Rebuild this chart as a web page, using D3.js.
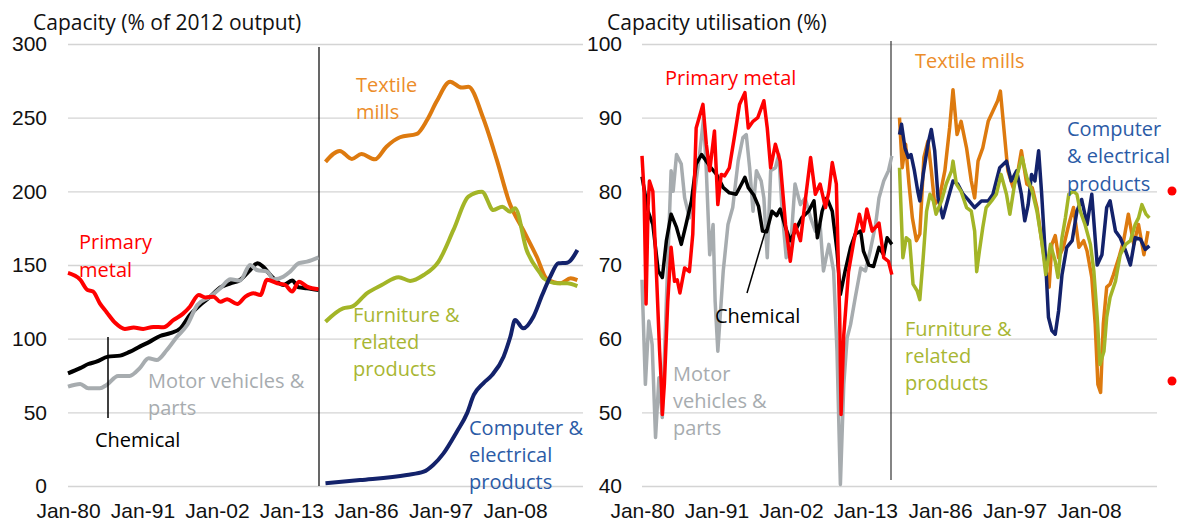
<!DOCTYPE html>
<html>
<head>
<meta charset="utf-8">
<script src="https://cdn.jsdelivr.net/npm/d3@7"></script>
<style>
  body { margin: 0; background: #fff; }
  svg { font-family: "Open Sans", sans-serif; }
  .axis text { font-size: 21px; fill: #111; }
  .axis path { display: none; }
  .grid line { stroke: #d4d4d4; stroke-width: 1.3; }
  .lbl { font-size: 20px; }
</style>
</head>
<body>
<svg id="chart" width="1180" height="523"></svg>
<script>
// --- data: [decimal year, value] ---
// capacity (% of 2012 output), first block
const primaryMetalCap = [[1980,144.6],[1981.8,140],[1982.9,133],[1983.7,132],[1984.7,124],[1985.7,118],[1987,110.6],[1988.4,106.6],[1989.7,107.5],[1991.1,106.6],[1992.6,108],[1994.1,107.7],[1995.6,112.7],[1997,117],[1998,121.7],[1999.3,129.6],[2000.3,128],[2001.5,128.5],[2002.5,125],[2003.5,126.7],[2005,123.5],[2006.2,128.5],[2007.4,130.8],[2008.4,129.6],[2009.4,140],[2010.9,137.6],[2012.1,136.4],[2013.1,132],[2014.1,138.7],[2015.3,135.3],[2017,133.5]];
const chemicalCap = [[1980,76.5],[1981.8,80],[1983,82.8],[1984.2,84.4],[1985.9,87.8],[1987.7,88.5],[1989.1,91],[1990.6,94.6],[1992.1,98],[1993.6,101.8],[1995.1,103.7],[1996.6,107],[1998,116],[1999.5,122.9],[2001,128.5],[2002.5,134.8],[2004,137.6],[2005.4,139.8],[2006.9,146.6],[2008,151.2],[2008.8,148.9],[2010.1,142.1],[2011.8,136.4],[2013.1,139.4],[2014.1,134.8],[2015.3,134.2],[2017,133]];
const motorCap = [[1980,67.4],[1981.8,69.2],[1983,66.3],[1984.7,66.3],[1985.7,68.6],[1987.4,74.7],[1989.1,74.7],[1990.6,80],[1991.9,86.7],[1993.1,85.5],[1994.6,92.3],[1996.1,101.3],[1997.6,109.3],[1999.1,122.9],[2001,128.5],[2002.5,134.2],[2004,140.3],[2005.4,139.4],[2006.9,150],[2007.9,146.6],[2009.4,145.5],[2010.4,140.3],[2011.8,142.1],[2012.8,145.5],[2014.1,151.2],[2015.3,152.3],[2017,155.2]];
// capacity, second block
const textileCap = [[1980,220],[1982.1,227.4],[1983.9,222],[1985.3,225.3],[1987.3,221.7],[1989,230.3],[1991,236.7],[1993.5,239],[1995,248.4],[1996.4,260.9],[1998.4,274.4],[2000.1,270.4],[2001.1,271],[2003.3,249.6],[2005.3,221.3],[2007.2,191.9],[2009.2,173.8],[2011.2,155.6],[2012.7,140.5],[2014.7,137.6],[2016.2,141],[2017.2,139.8]];
const furnitureCap = [[1980,111.5],[1982.6,120.6],[1983.9,121.7],[1986.1,130.8],[1988.3,136.4],[1990.8,141.7],[1992.5,139.2],[1994.5,143.2],[1996.7,152.3],[1998.9,173.8],[2001.1,196.4],[2003.1,199.8],[2004.8,187.3],[2006.1,189.6],[2007.3,186.2],[2008,188.5],[2009.7,160.2],[2011.7,144.4],[2012.2,141],[2014.2,137.6],[2015.7,137.6],[2017.2,135.7]];
const computerCap = [[1980,1.8],[1985.1,4],[1992,7.5],[1994.5,9.7],[1995.9,14.3],[1997.4,22],[1999.4,36.9],[2000.9,49.3],[2001.9,61.8],[2003.3,69.7],[2004.6,75.3],[2006.3,87.8],[2007.3,101.3],[2008,112.7],[2009.2,107],[2010.7,114.9],[2012,129.6],[2013.2,142.1],[2014.4,151.2],[2015.7,151.6],[2017.2,160.2]];

// capacity utilisation (%), first block
const primaryMetalUtil = [[1980,84.8],[1980.3,80],[1980.6,64.7],[1980.9,78],[1981.1,81.4],[1981.6,80],[1982.1,69.6],[1982.6,58.3],[1982.9,53],[1983,49.7],[1983.3,53.8],[1983.8,65],[1984.3,72.4],[1984.8,67.8],[1985.2,68],[1985.6,66.2],[1986.3,69.6],[1987,69.1],[1987.5,74.2],[1988,88.6],[1988.5,90.2],[1989,91.8],[1989.5,86.4],[1990,82.8],[1990.7,88.2],[1991.2,78.2],[1991.7,82.3],[1992.2,82.1],[1992.9,83.2],[1993.7,87.7],[1994.4,91.8],[1995.2,93.4],[1995.7,88.6],[1996.4,89.5],[1997.1,90],[1998,92.3],[1998.5,88.6],[1999,83.2],[1999.7,86.4],[2000.4,84.1],[2001.2,75.5],[2001.9,70.5],[2002.6,75.5],[2003.4,73.3],[2004.1,78.7],[2004.9,84.6],[2005.6,79.6],[2006.3,81],[2007.1,77.8],[2007.6,80],[2008.1,83.9],[2008.7,81],[2009.2,62.9],[2009.4,49.7],[2009.8,60.5],[2010.5,69.1],[2011.3,73.3],[2012.1,76.9],[2012.7,74.6],[2013.2,77.6],[2014,74.6],[2015,75.7],[2015.7,71],[2016.4,70.5],[2016.9,68.7]];
const chemicalUtil = [[1980,82],[1980.9,77.3],[1981.6,75.5],[1982.4,69.2],[1983,68.3],[1983.6,73.3],[1984.3,76.9],[1985.1,75.1],[1985.8,72.8],[1986.5,75.5],[1987.3,78.7],[1988,83.7],[1988.8,85],[1989.5,84.1],[1990.2,83.2],[1991,82.3],[1992,80.5],[1992.9,79.8],[1993.9,79.6],[1994.7,81],[1995.2,81.9],[1995.7,80.5],[1996.5,79.5],[1997.2,78],[1997.8,74.6],[1998.4,74.5],[1999.2,77.3],[1999.9,76.7],[2000.4,77.6],[2001.2,75.1],[2001.9,73.3],[2002.6,74.6],[2003.6,76.4],[2004.6,77.3],[2005.4,78.7],[2005.9,73.7],[2006.6,77.3],[2007.3,79.1],[2008.1,77.3],[2008.8,71.9],[2009.3,66],[2010,69.2],[2010.8,72.4],[2011.5,74.2],[2012.3,74.6],[2012.7,71.9],[2013.5,70],[2014.2,69.8],[2015,72.4],[2015.7,71.4],[2016.2,73.7],[2016.9,72.8]];
const motorUtil = [[1980,68],[1980.5,53.8],[1981,62.4],[1981.5,59.2],[1982,46.6],[1982.5,54.7],[1983,49.3],[1983.6,65.1],[1984.3,82.8],[1984.6,80],[1985.1,85],[1985.8,83.7],[1986.3,79.1],[1987,76.4],[1987.8,80],[1988.5,85],[1989.1,90],[1989.5,82.8],[1990,71.4],[1990.5,75.5],[1990.8,65.1],[1991.2,58.3],[1992,69.2],[1992.7,75.5],[1993.4,77.8],[1994.2,84.1],[1994.9,87.3],[1995.4,87.7],[1995.9,83.2],[1996.4,77.3],[1996.9,82.8],[1997.6,81.4],[1998,79.1],[1998.5,71],[1999,82.8],[1999.7,83.2],[2000.2,85],[2000.7,77.3],[2001.3,71],[2001.9,71.9],[2002.6,81],[2003.4,78.2],[2004.1,79.1],[2004.9,76.4],[2005.6,74.6],[2006.3,75.5],[2006.8,69.2],[2007.6,72.8],[2008.3,69.2],[2008.8,58.3],[2009.3,40.2],[2009.8,53.8],[2010.3,60.1],[2010.8,61.9],[2011.5,65.6],[2012.3,69.6],[2013,69.2],[2013.7,71.9],[2014.5,75.5],[2015,79.1],[2015.7,81.4],[2016.4,82.8],[2016.9,84.8]];
// capacity utilisation, second block
const textileUtil = [[1980,90],[1980.4,83.2],[1980.9,86.4],[1981.4,81],[1981.9,76.4],[1982.5,73.3],[1983,74.2],[1983.6,84.6],[1984.2,86.8],[1984.7,82.8],[1985.2,78.2],[1985.9,79.1],[1986.7,82.8],[1987.4,88.6],[1987.9,93.8],[1988.5,87.7],[1989.1,89.5],[1989.9,85.9],[1990.6,81.4],[1991.1,79.1],[1991.6,84.1],[1992.3,85.9],[1993.1,89.5],[1993.8,90.9],[1994.5,92.3],[1994.9,93.6],[1995.5,87.7],[1996,82.8],[1996.8,80.5],[1997.5,82.8],[1998,85.5],[1998.8,81],[1999.6,80.5],[2000.3,77.8],[2001,73.3],[2001.8,68.3],[2002.1,67],[2002.5,72.8],[2003,74],[2003.5,71],[2004.2,72.4],[2005,75.5],[2005.7,77.8],[2006.5,72.4],[2007.2,73.3],[2007.7,71.9],[2008.4,68.3],[2008.9,62],[2009.3,53.8],[2009.7,52.7],[2010.1,62],[2010.6,67],[2011.1,67.4],[2011.6,68.7],[2012.4,71],[2013.1,73.3],[2013.8,76.9],[2014.6,72.8],[2015.3,75.5],[2016.1,71.4],[2016.7,74.6]];
const computerUtil = [[1980,87.7],[1980.3,89.1],[1980.8,85.9],[1981.3,84.6],[1981.7,85],[1982.2,82.8],[1982.7,80],[1983,78.7],[1983.5,82.3],[1984.2,86.4],[1984.7,88.4],[1985.2,85.5],[1985.7,79.1],[1986.4,76.4],[1987.2,79.1],[1987.9,81.4],[1988.6,81],[1989.4,79.6],[1990.1,78.9],[1991.1,77.8],[1992.1,78.7],[1993.1,78.7],[1993.8,79.6],[1994.8,83.2],[1995.8,84.1],[1996.5,81.4],[1997.3,82.8],[1998,79.6],[1998.5,76],[1999,78.2],[1999.5,82.3],[2000,81.4],[2000.55,85.5],[2001,79.6],[2001.5,71.9],[2002,62.9],[2002.5,61.1],[2003,60.6],[2003.5,63.8],[2004,68.7],[2004.7,72.4],[2005.5,73.3],[2006.2,77.3],[2006.9,78.9],[2007.7,75.5],[2008.4,79.6],[2009.2,70],[2009.9,71.4],[2010.6,77.8],[2011.1,78.7],[2011.9,74.6],[2012.6,73.7],[2013.4,71.9],[2014.1,70],[2014.8,73.7],[2015.6,73.5],[2016.3,72.1],[2016.9,72.6]];
const furnitureUtil = [[1980,83.2],[1980.5,71],[1981,73.7],[1981.5,73.3],[1982,67.4],[1982.6,66.5],[1983,65.3],[1983.5,71],[1984,77.3],[1984.5,79.6],[1985,78.7],[1985.4,76.9],[1986.2,78.7],[1986.9,81],[1987.7,82.8],[1987.9,84.1],[1988.4,81],[1989.1,80],[1989.9,77.8],[1990.6,77.3],[1991.1,74.6],[1991.4,69.1],[1991.8,71.9],[1992.3,75.1],[1992.8,77.8],[1993.6,78.7],[1994.3,79.6],[1995,82.3],[1995.8,79.6],[1996.3,76.9],[1997,81],[1997.8,83.7],[1998.1,84.6],[1998.8,81.9],[1999.6,80],[2000.3,77.3],[2001,73.3],[2001.6,68.7],[2002.3,72.8],[2003,70.5],[2003.4,68.3],[2004,73.7],[2004.5,76.4],[2005,79.6],[2005.7,80],[2006.2,79.6],[2006.7,77.3],[2007.4,75.5],[2008.2,72.8],[2008.7,69.2],[2009.2,62.9],[2009.6,56.5],[2010.2,58.3],[2010.6,62.9],[2011.1,65.6],[2011.9,67.8],[2012.6,71.4],[2013.4,72.8],[2014.1,73.3],[2014.8,75.5],[2015.3,76.4],[2015.8,78.2],[2016.4,76.9],[2016.9,76.4]];

// tick labels
const ticksA = [1980, 1991, 2002, 2013];
const ticksB = [1986, 1997, 2008];
const capTicks = [0, 50, 100, 150, 200, 250, 300];
const utilTicks = [40, 50, 60, 70, 80, 90, 100];
const fmtJan = d => "Jan-" + String(d).slice(2);

const colors = {
  red: "#ff0000", black: "#000000", grey: "#a7acaf",
  orange: "#dd7a0f", olive: "#a3b527", navy: "#13226b"
};

const svg = d3.select("#chart");
const lineGap = 27.4; // row spacing inside the multi-line labels

function drawPanel(p) {
  const g = svg.append("g");
  const y = d3.scaleLinear().domain(p.yDomain).range([486, 44]);
  // month spacing is the same in both blocks
  const xA = d3.scaleLinear().domain([1980, 2018]).range([p.x0, p.x0 + 257.3]);
  const xB = d3.scaleLinear().domain([1980, 2018]).range([p.x0 + 257.5, p.x0 + 514.8]);

  g.append("g")
    .attr("class", "axis grid")
    .attr("transform", `translate(${p.x0},0)`)
    .call(d3.axisLeft(y).tickValues(p.yTicks).tickSizeInner(-515).tickSizeOuter(0).tickPadding(p.pad));

  g.append("g").attr("class", "axis")
    .attr("transform", "translate(0,486)")
    .call(d3.axisBottom(xA).tickValues(ticksA).tickFormat(fmtJan).tickSize(0).tickPadding(17));
  g.append("g").attr("class", "axis")
    .attr("transform", "translate(0,486)")
    .call(d3.axisBottom(xB).tickValues(ticksB).tickFormat(fmtJan).tickSize(0).tickPadding(17));

  // divider between the two blocks
  g.append("line")
    .attr("x1", p.x0 + p.divX).attr("x2", p.x0 + p.divX)
    .attr("y1", p.divY[0]).attr("y2", p.divY[1])
    .attr("stroke", p.divColor).attr("stroke-width", 1.2);

  g.append("text").attr("x", p.titleX).attr("y", 30)
    .attr("font-size", 21).attr("fill", "#111").text(p.title);

  const clip = "clip" + p.x0;
  svg.append("clipPath").attr("id", clip).append("rect")
    .attr("x", p.x0 - 5).attr("y", 40).attr("width", 530).attr("height", 447);

  p.series.forEach(s => {
    const x = s.block === "A" ? xA : xB;
    const line = d3.line().x(d => x(d[0])).y(d => y(d[1])).curve(p.curve);
    g.append("path")
      .datum(s.data)
      .attr("clip-path", `url(#${clip})`)
      .attr("fill", "none")
      .attr("stroke", s.color)
      .attr("stroke-width", p.lineWidth)
      .attr("stroke-linejoin", "round")
      .attr("d", line);
  });

  p.labels.forEach(l => {
    const t = g.append("text").attr("class", "lbl").attr("fill", l.color);
    l.lines.forEach((s, i) => {
      t.append("tspan").attr("x", l.x).attr("y", l.y + i * lineGap).text(s);
    });
  });

  p.leaders.forEach(d => {
    g.append("line").attr("x1", d[0]).attr("y1", d[1]).attr("x2", d[2]).attr("y2", d[3])
      .attr("stroke", "#000").attr("stroke-width", 1.5);
  });
}

drawPanel({
  x0: 68, pad: 21, yDomain: [0, 300], yTicks: capTicks,
  divX: 251, divY: [47, 486], divColor: "#000",
  title: "Capacity (% of 2012 output)", titleX: 33,
  curve: d3.curveMonotoneX, lineWidth: 4,
  series: [
    { block: "A", data: chemicalCap, color: colors.black },
    { block: "A", data: motorCap, color: colors.grey },
    { block: "A", data: primaryMetalCap, color: colors.red },
    { block: "B", data: textileCap, color: colors.orange },
    { block: "B", data: furnitureCap, color: colors.olive },
    { block: "B", data: computerCap, color: colors.navy }
  ],
  labels: [
    { lines: ["Primary", "metal"], x: 79, y: 249.3, color: "#ff0000" },
    { lines: ["Chemical"], x: 95, y: 447, color: "#000" },
    { lines: ["Motor vehicles &", "parts"], x: 148, y: 388, color: "#a7acaf" },
    { lines: ["Textile", "mills"], x: 356, y: 92, color: "#ec8d2a" },
    { lines: ["Furniture &", "related", "products"], x: 353, y: 321.6, color: "#a8b632" },
    { lines: ["Computer &", "electrical", "products"], x: 469, y: 434.6, color: "#2b5ba6" }
  ],
  leaders: [[108, 337, 108, 418]]
});

drawPanel({
  x0: 642, pad: 20, yDomain: [40, 100], yTicks: utilTicks,
  divX: 249, divY: [41, 480], divColor: "#333",
  title: "Capacity utilisation (%)", titleX: 607,
  curve: d3.curveLinear, lineWidth: 3.5,
  series: [
    { block: "A", data: motorUtil, color: colors.grey },
    { block: "A", data: chemicalUtil, color: colors.black },
    { block: "A", data: primaryMetalUtil, color: colors.red },
    { block: "B", data: textileUtil, color: colors.orange },
    { block: "B", data: computerUtil, color: colors.navy },
    { block: "B", data: furnitureUtil, color: colors.olive }
  ],
  labels: [
    { lines: ["Primary metal"], x: 665, y: 85, color: "#ff0000" },
    { lines: ["Chemical"], x: 715, y: 323, color: "#000" },
    { lines: ["Motor", "vehicles &", "parts"], x: 673, y: 380.6, color: "#a7acaf" },
    { lines: ["Textile mills"], x: 915, y: 68, color: "#ec8d2a" },
    { lines: ["Computer", "& electrical", "products"], x: 1067, y: 136, color: "#2b5ba6" },
    { lines: ["Furniture &", "related", "products"], x: 905, y: 335.6, color: "#a8b632" }
  ],
  leaders: [[747, 293, 766, 229]]
});

// two stray red markers at the right edge
svg.selectAll("circle.dot").data([191, 381]).join("circle")
  .attr("class", "dot").attr("cx", 1172).attr("cy", d => d).attr("r", 4.5).attr("fill", "#ff0000");
</script>
</body>
</html>
